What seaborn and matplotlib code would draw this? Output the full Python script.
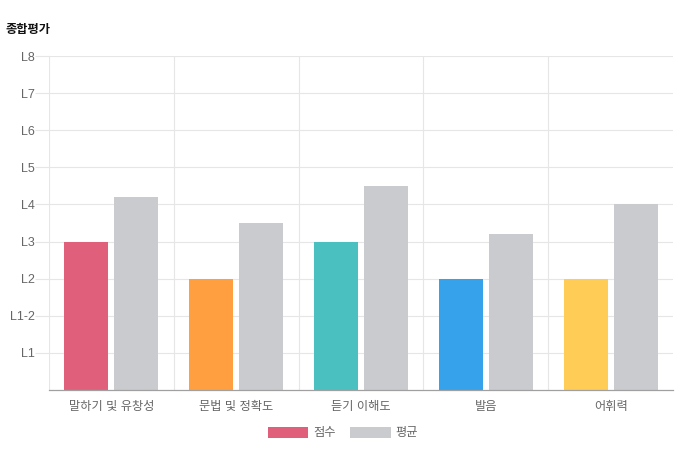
import pandas as pd
import seaborn as sns
import matplotlib.pyplot as plt
from matplotlib.patches import Patch
from matplotlib.ticker import FixedLocator

# =============================================================================
# Data
# =============================================================================

categories = ['말하기 및 유창성', '문법 및 정확도', '듣기 이해도', '발음', '어휘력']
score = [4, 3, 4, 3, 3]
average = [5.2, 4.5, 5.5, 4.2, 5.0]
level_ticks = [1, 2, 3, 4, 5, 6, 7, 8, 9]
level_labels = ['L1', 'L1-2', 'L2', 'L3', 'L4', 'L5', 'L6', 'L7', 'L8']
series_names = ['점수', '평균']

score_colors = ['#E0607C', '#FF9F40', '#4BC0C0', '#36A2EB', '#FFCD56']
avg_color = '#C9CBCF'

df = pd.DataFrame({
    'category': categories * 2,
    'value': score + average,
    'series': [series_names[0]] * len(categories) + [series_names[1]] * len(categories),
})

# =============================================================================
# Plot
# =============================================================================

sns.set_theme(style='white')
plt.rcParams['font.family'] = ['Liberation Sans', 'Noto Sans CJK KR', 'DejaVu Sans']

fig = plt.figure(figsize=(6.97, 4.67), dpi=100)
ax = fig.add_axes([49 / 697, 1 - 390 / 467, 624 / 697, 334 / 467])

sns.barplot(
    data=df, x='category', y='value', hue='series',
    order=categories, hue_order=series_names,
    palette={series_names[0]: score_colors[0], series_names[1]: avg_color},
    width=0.8, gap=0.12, linewidth=0, saturation=1,
    legend=False, ax=ax,
)

# per-category colours for the score bars
for patch, c in zip(ax.containers[0], score_colors):
    patch.set_facecolor(c)

ax.set_xlim(-0.5, len(categories) - 0.5)
ax.set_ylim(0, 9)
ax.set_yticks(level_ticks)
ax.set_yticklabels(level_labels)
ax.set_xlabel('')
ax.set_ylabel('')

grid_c = '#E6E6E6'
ax.yaxis.grid(True, color=grid_c, lw=0.8)
ax.xaxis.set_minor_locator(FixedLocator([i - 0.5 for i in range(len(categories))]))
ax.xaxis.grid(True, which='minor', color=grid_c, lw=0.8)
ax.xaxis.grid(False, which='major')
ax.set_axisbelow(True)

ax.tick_params(axis='x', which='major', length=0, pad=8, labelsize=8.8, labelcolor='#666666')
ax.tick_params(axis='x', which='minor', length=10, color=grid_c, width=0.8, direction='out')
ax.tick_params(axis='y', length=10, color=grid_c, width=0.8, pad=0.5, labelsize=9,
               labelcolor='#666666', left=True)

for s in ['top', 'right', 'left']:
    ax.spines[s].set_visible(False)
ax.spines['bottom'].set_color('#A0A0A0')
ax.spines['bottom'].set_linewidth(0.9)

fig.text(5 / 697, 1 - 30 / 467, '종합평가', fontsize=8.8, fontweight='bold',
         va='center', ha='left', color='#111111')

handles = [Patch(facecolor=score_colors[0], edgecolor='none', label=series_names[0]),
           Patch(facecolor=avg_color, edgecolor='none', label=series_names[1])]
fig.legend(handles=handles, loc='center', bbox_to_anchor=(343 / 697, 1 - 433 / 467), ncol=2,
           frameon=False, fontsize=8.8, handlelength=3.3, handleheight=1.0,
           handletextpad=0.4, columnspacing=1.2, labelcolor='#666666')

fig.savefig('out.png', dpi=100)
